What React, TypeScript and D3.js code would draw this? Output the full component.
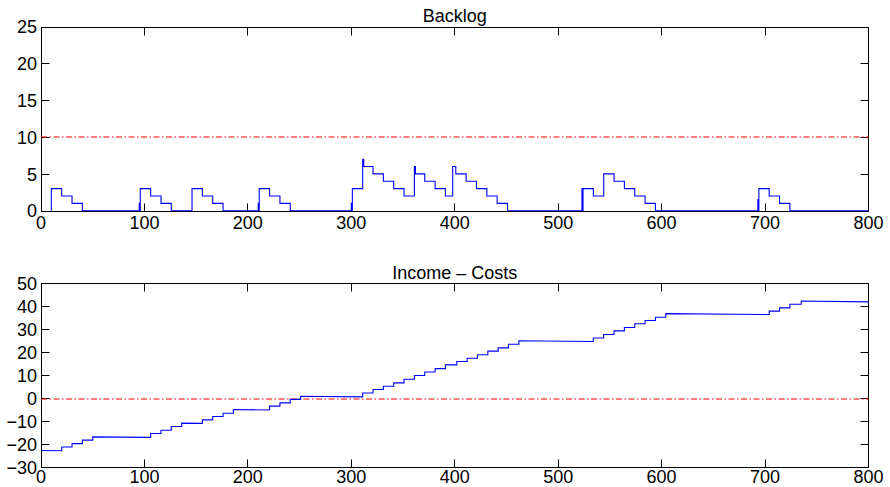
import React from "react";
import * as d3 from "d3";

// ---------- data ----------
const xTicks = [0, 100, 200, 300, 400, 500, 600, 700, 800];
const backlogYTicks = [0, 5, 10, 15, 20, 25];
const incomeYTicks = [-30, -20, -10, 0, 10, 20, 30, 40, 50];

// Backlog: step-after breakpoints [time, backlog]
const backlogPoints: [number, number][] = [
  [10, 0], [10, 3], [20, 2], [30, 1], [40, 0],
  [95, 1], [95.5, 0], [96, 3], [106, 2], [116, 1], [126, 0],
  [146, 3], [156, 2], [166, 1], [176, 0],
  [210, 1], [210.5, 0], [211, 3], [221, 2], [231, 1], [241, 0],
  [300, 1], [300.5, 0], [301, 3], [311, 7], [312, 6], [321, 5], [331, 4], [341, 3], [351, 2],
  [361, 6], [362, 5], [371, 4], [381, 3], [391, 2],
  [398, 6], [401, 5], [411, 4], [421, 3], [431, 2], [441, 1], [451, 0],
  [523, 3], [523.5, 0], [524, 3], [534, 2], [544, 5], [554, 4], [564, 3], [574, 2], [584, 1], [594, 0],
  [693, 1.5], [693.5, 0], [694, 3], [704, 2], [714, 1], [724, 0],
  [800, 0],
];
const backlogLimit = 10;

// Income - Costs: levels (start time, value at start, value at end)
const incomeStart = [0, 20, 30, 40, 50, 106, 116, 126, 136, 156, 166, 176, 186, 221, 231, 241, 251,
  311, 321, 331, 341, 351, 361, 371, 381, 391, 402, 412, 422, 432, 442, 452, 462,
  534, 544, 554, 564, 574, 584, 594, 604, 704, 714, 724, 735];
const incomeLevelA = [-22.6, -21.1, -19.6, -18.1, -16.7, -15.2, -13.8, -12.2, -10.7, -9.3, -7.8, -6.4, -4.8, -3.3, -1.9, -0.4, 1.0,
  2.4, 3.9, 5.3, 6.8, 8.4, 10.0, 11.5, 13.0, 14.6, 16.1, 17.5, 19.0, 20.6, 22.0, 23.6, 25.1,
  26.3, 27.8, 29.4, 30.9, 32.5, 33.9, 35.3, 36.9, 38.0, 39.4, 41.0, 42.4];
const incomeLevelB = [-22.7, -21.1, -19.6, -18.1, -16.9, -15.2, -13.8, -12.2, -10.8, -9.3, -7.8, -6.4, -5.0, -3.3, -1.9, -0.4, 0.7,
  2.4, 3.9, 5.3, 6.8, 8.4, 10.0, 11.5, 13.0, 14.6, 16.1, 17.5, 19.0, 20.6, 22.0, 23.6, 24.8,
  26.3, 27.8, 29.4, 30.9, 32.5, 33.9, 35.3, 36.5, 38.0, 39.4, 41.0, 42.0];
const incomeEnd = 800;
const incomeRef = 0;

// ---------- layout ----------
const W = 890, H = 487;
const X0 = 41, X1 = 868.5;
const FONT = "'Liberation Sans', Arial, Helvetica, sans-serif";
const FS = 18;
const TICK = 8;
const snap = (v: number) => Math.round(v - 0.5) + 0.5;

type PanelProps = {
  top: number; bottom: number; domain: [number, number]; yTicks: number[]; title: string; labelDy: number;
  children: (x: d3.ScaleLinear<number, number>, y: d3.ScaleLinear<number, number>) => React.ReactNode;
};

function Panel({ top, bottom, domain, yTicks, title, labelDy, children }: PanelProps) {
  const x = d3.scaleLinear().domain([0, 800]).range([X0, X1]);
  const y = d3.scaleLinear().domain(domain).range([bottom, top]);
  const fmt = (v: number) => (v < 0 ? "\u2212" + Math.abs(v) : String(v));
  return (
    <g>
      <text x={(X0 + X1) / 2} y={top - 5} textAnchor="middle" fontSize={FS} fontFamily={FONT}>{title}</text>
      <g>
        <rect x={snap(X0)} y={snap(top)} width={snap(X1) - snap(X0)} height={snap(bottom) - snap(top)} fill="none" stroke="#000" strokeWidth={1} />
        {xTicks.map((t) => (
          <g key={"x" + t}>
            <line x1={snap(x(t))} x2={snap(x(t))} y1={snap(bottom)} y2={snap(bottom) - TICK} stroke="#000" />
            <line x1={snap(x(t))} x2={snap(x(t))} y1={snap(top)} y2={snap(top) + TICK} stroke="#000" />
          </g>
        ))}
        {yTicks.map((t) => (
          <g key={"y" + t}>
            <line x1={snap(X0)} x2={snap(X0) + TICK} y1={snap(y(t))} y2={snap(y(t))} stroke="#000" />
            <line x1={snap(X1)} x2={snap(X1) - TICK} y1={snap(y(t))} y2={snap(y(t))} stroke="#000" />
          </g>
        ))}
      </g>
      {children(x, y)}
      {xTicks.map((t) => (
        <text key={"xl" + t} x={x(t)} y={bottom + labelDy} textAnchor="middle" fontSize={FS} fontFamily={FONT}>{t}</text>
      ))}
      {yTicks.map((t) => (
        <text key={"yl" + t} x={X0 - 4} y={y(t)} dy="0.36em" textAnchor="end" fontSize={FS} fontFamily={FONT}>{fmt(t)}</text>
      ))}
    </g>
  );
}

export default function App() {
  const incomePoints: [number, number][] = [];
  incomeStart.forEach((s, i) => {
    const e = i + 1 < incomeStart.length ? incomeStart[i + 1] : incomeEnd;
    incomePoints.push([s, incomeLevelA[i]]);
    incomePoints.push([e, incomeLevelB[i]]);
  });

  return (
    <svg width={W} height={H} style={{ position: "absolute", left: 0, top: 0, background: "#fff" }}>
      <rect width={W} height={H} fill="#fff" />
      <Panel top={27} bottom={211} domain={[0, 25]} yTicks={backlogYTicks} title="Backlog" labelDy={17.5}>
        {(x, y) => {
          const line = d3.line<[number, number]>().x((d) => x(d[0])).y((d) => y(d[1]) - 0.3).curve(d3.curveStepAfter);
          return (
            <g>
              <line x1={X0} x2={X1} y1={Math.round(y(backlogLimit))} y2={Math.round(y(backlogLimit))} stroke="#ff0000" strokeWidth={1.2} strokeDasharray="6,2.5,1.5,2.5" />
              <path d={line(backlogPoints) || ""} fill="none" stroke="#0000ff" strokeWidth={1.1} />
            </g>
          );
        }}
      </Panel>
      <Panel top={283.5} bottom={467.5} domain={[-30, 50]} yTicks={incomeYTicks} title={"Income \u2013 Costs"} labelDy={15.5}>
        {(x, y) => {
          const line = d3.line<[number, number]>().x((d) => x(d[0])).y((d) => y(d[1]));
          return (
            <g>
              <line x1={X0} x2={X1} y1={Math.round(y(incomeRef))} y2={Math.round(y(incomeRef))} stroke="#ff0000" strokeWidth={1.2} strokeDasharray="6,2.5,1.5,2.5" />
              <path d={line(incomePoints) || ""} fill="none" stroke="#0000ff" strokeWidth={1.1} />
            </g>
          );
        }}
      </Panel>
    </svg>
  );
}
